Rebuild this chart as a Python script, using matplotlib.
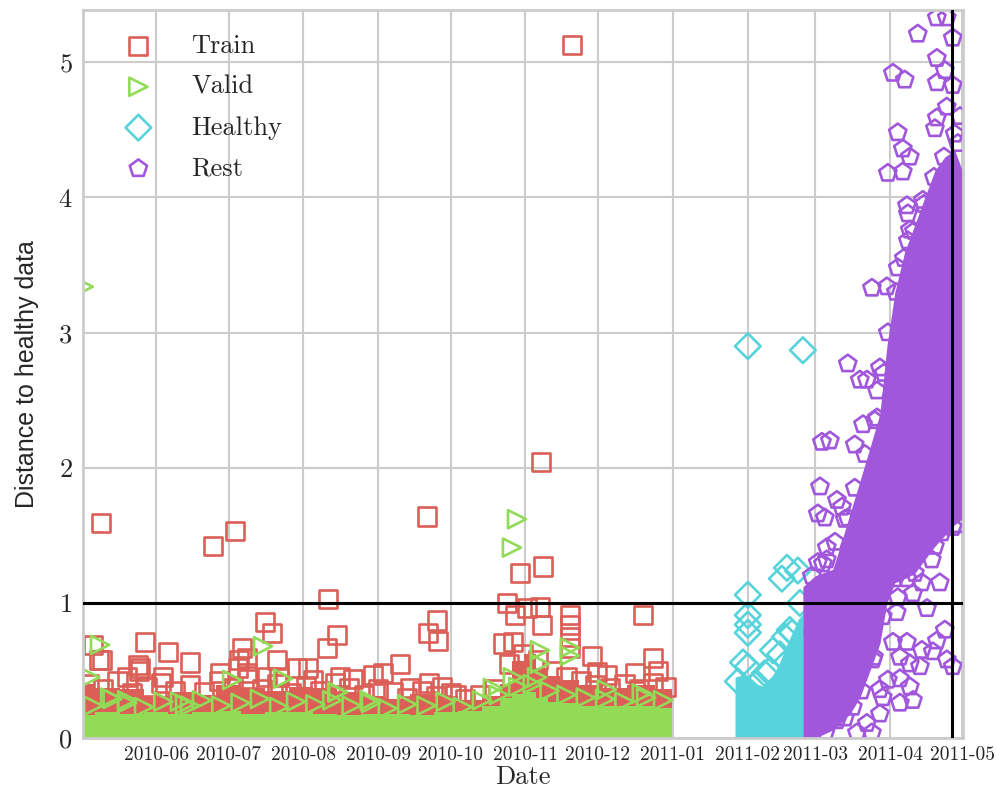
import numpy as np
import pandas as pd
import matplotlib
matplotlib.use('Agg')
import matplotlib.pyplot as plt
import matplotlib.dates as mdates
import seaborn as sns

sns.set_style('whitegrid')
plt.rcParams['font.family'] = 'serif'
plt.rcParams['font.serif'] = ['cmr10']
plt.rcParams['axes.formatter.use_mathtext'] = True

# days counted from 2010-06-01
start = pd.Timestamp('2010-06-01')

# dense lower part of train / valid (envelope of the solid band)
band_day = [-30.3, -20, -10, 0, 10, 20, 30, 40, 50, 60, 70, 80, 90, 100, 110,
            120, 130, 140, 145, 150, 155, 160, 165, 170, 180, 190, 200, 213.5]
train_top = [0.40, 0.37, 0.36, 0.31, 0.34, 0.32, 0.39, 0.37, 0.35, 0.38, 0.37, 0.34, 0.31, 0.29, 0.33,
             0.31, 0.28, 0.31, 0.40, 0.57, 0.62, 0.52, 0.46, 0.43, 0.39, 0.37, 0.39, 0.36]
valid_top = [0.17, 0.19, 0.18, 0.19, 0.18, 0.19, 0.20, 0.18, 0.19, 0.19, 0.18, 0.17, 0.18, 0.18, 0.17,
             0.19, 0.20, 0.24, 0.30, 0.33, 0.34, 0.30, 0.27, 0.26, 0.24, 0.24, 0.24, 0.22]

# healthy band
healthy_band_day = [239.8, 243, 246, 249, 252, 255, 258, 261, 264, 266, 268]
healthy_top = [0.45, 0.47, 0.45, 0.40, 0.38, 0.45, 0.55, 0.68, 0.80, 0.88, 0.92]

# rest band (lower and upper edge)
rest_band_day = [267.9, 272.9, 280.3, 283.2, 287.4, 291.5, 295.7, 299.8, 302.7,
                 306.0, 310.1, 314.3, 318.4, 322.6, 326.7, 330.8, 333.9]
rest_low = [0.0, 0.0, 0.06, 0.10, 0.18, 0.30, 0.50, 0.70, 1.00,
            1.15, 1.18, 1.22, 1.32, 1.42, 1.50, 1.58, 1.62]
rest_high = [1.12, 1.20, 1.25, 1.41, 1.66, 1.90, 2.15, 2.40, 2.90,
             3.30, 3.60, 3.80, 4.00, 4.20, 4.30, 4.35, 4.20]

# single markers
train_day = [-22.8, 23.6, 32.7, 112.2, 159.4, 172.3, 71.2, 145.3, 148.7, 153.6, 159.0, 150.7, 160.2,
             159.8, 143.7, 147.8, 171.4, 171.4, 171.4, 171.4, 180.5, 182.6, 201.7, 205.8, 207.9,
             198.3, 186.7, 74.9, 70.8, 45.1, 48.0, -4.6, 5.0, 35.6, 14.1, -26.1, -22.4, -6.6, 26.5,
             37.7, 50.1, 58.4, 65.0, 89.9, 116.4, 112.6, 116.8, 101.0, 94.0, 63.0, 51.0, 76.0,
             81.5, 105.0, 113.0, 118.5, 124.0, -23.5, -7.5, -7.0, 3.0, -12.0, 34.5, 34.0, 37.5,
             46.0,
             -28, -22, -16, -10, -4, 2, 8, 14, 20, 26, 32, 38, 44, 50, 56, 62, 68, 74, 80, 86, 92,
             98, 104, 110, 116, 122, 128, 134, 140, 146, 152, 158, 164, 170, 176, 182, 188, 194,
             200, 206, 211]
train_val = [1.59, 1.42, 1.53, 1.64, 2.04, 5.13, 1.03, 1.00, 0.91, 0.96, 0.97, 1.22, 1.27,
             0.84, 0.70, 0.71, 0.91, 0.84, 0.75, 0.67, 0.61, 0.49, 0.91, 0.59, 0.50,
             0.48, 0.47, 0.76, 0.67, 0.86, 0.78, 0.71, 0.64, 0.67, 0.56, 0.69, 0.58, 0.52, 0.48,
             0.59, 0.58, 0.52, 0.43, 0.47, 0.87, 0.78, 0.72, 0.55, 0.48, 0.52, 0.45, 0.45,
             0.44, 0.37, 0.41, 0.38, 0.32, 0.58, 0.54, 0.50, 0.45, 0.45, 0.58, 0.52, 0.48,
             0.45,
             0.40, 0.36, 0.42, 0.33, 0.38, 0.41, 0.35, 0.39, 0.34, 0.42, 0.37, 0.44, 0.36, 0.40,
             0.33, 0.38, 0.35, 0.41, 0.37, 0.32, 0.36, 0.34, 0.30, 0.35, 0.31, 0.33, 0.29, 0.32,
             0.36, 0.55, 0.62, 0.58, 0.50, 0.45, 0.42, 0.39, 0.37, 0.40, 0.36, 0.41, 0.38]

valid_day = [-30.0, 149.5, 147.4, -23.2, -27.3, 44.3, 31.5, 52.6, 75.4, -19.0, -12.0, 9.9, 14.1,
             159.0, 159.0, 171.4, 171.4, 139.5, 147.8, 186.7, 201.2, 157.8, 75.0, 88.5,
             -26, -18, -12, -5, 3, 12, 19, 27, 35, 43, 51, 58, 66, 73, 81, 89, 96, 104, 112, 120,
             127, 135, 142, 150, 156, 163, 170, 178, 186, 194, 203, 210]
valid_val = [3.34, 1.62, 1.41, 0.69, 0.45, 0.68, 0.43, 0.44, 0.34, 0.30, 0.28, 0.27, 0.24,
             0.65, 0.55, 0.67, 0.61, 0.37, 0.45, 0.36, 0.33, 0.45, 0.34, 0.28,
             0.24, 0.29, 0.26, 0.23, 0.27, 0.25, 0.28, 0.24, 0.26, 0.29, 0.23, 0.27, 0.25, 0.28,
             0.24, 0.26, 0.22, 0.25, 0.24, 0.27, 0.23, 0.28, 0.32, 0.38, 0.40, 0.35, 0.32, 0.30,
             0.29, 0.27, 0.30, 0.28]

healthy_day = [245.1, 267.9, 261.3, 265.8, 259.2, 245.1, 245.1, 245.1, 245.1, 243.1, 245.1,
               266.7, 260.5, 252.1, 255.5, 262.5,
               241.0, 248.0, 254.2, 258.4, 263.4]
healthy_val = [2.90, 2.87, 1.26, 1.24, 1.18, 1.06, 0.91, 0.84, 0.78, 0.56, 0.53,
               1.00, 0.75, 0.48, 0.65, 0.80,
               0.42, 0.40, 0.50, 0.62, 0.78]

rest_day = [323.4, 327.5, 315.5, 330.0, 305.2, 310.1, 323.4, 326.7, 323.4, 330.0, 327.5, 323.4,
            322.6, 330.8, 307.2, 309.3, 312.2, 303.1, 309.3, 317.6, 311.0, 311.4, 312.2, 311.4,
            307.2, 296.5, 302.7, 286.5, 291.5, 294.4, 299.8, 298.6, 292.8, 298.6, 275.8, 279.1,
            289.4, 275.0, 282.0, 284.1, 274.1, 277.0, 286.5, 277.8, 277.8, 325.5, 330.0, 321.3,
            309.3, 276.2, 306.8, 311.0, 317.2, 324.6, 307.2, 306.8, 313.5, 319.3, 326.7, 323.4,
            305.2, 311.0, 308.1, 296.9, 317.2, 321.7, 327.5, 330.0, 312.2, 316.4, 303.1, 308.1,
            290.3, 299.8, 312.2, 313.5, 308.1, 301.0, 284.5, 288.6, 282.0, 294.4, 296.5, 290.3,
            299.8,
            271.6, 274.1, 281.2, 285.3, 289.4, 293.6, 297.7, 301.4, 303.1, 306.4, 309.7, 313.9,
            318.0, 322.2, 326.3, 332.1, 333.0,
            277.4, 285.3, 292.2, 297.3, 301.0, 306.0, 314.3, 322.6, 332.1]
rest_val = [5.33, 5.33, 5.21, 5.18, 4.92, 4.87, 5.03, 4.94, 4.85, 4.83, 4.67, 4.59,
            4.51, 4.47, 4.48, 4.36, 4.30, 4.18, 4.19, 3.98, 3.94, 3.88, 3.76, 3.68,
            3.48, 3.33, 3.34, 2.77, 2.65, 2.65, 2.74, 2.57, 2.32, 2.37, 2.19, 2.20,
            2.17, 1.86, 1.76, 1.71, 1.66, 1.63, 1.63, 1.41, 1.32, 1.52, 1.56, 1.32,
            1.32, 1.29, 1.22, 1.18, 1.15, 1.15, 1.04, 0.93, 1.07, 0.96, 0.80, 0.72,
            0.71, 0.71, 0.60, 0.58, 0.65, 0.64, 0.58, 0.53, 0.55, 0.53, 0.43, 0.44,
            0.44, 0.36, 0.38, 0.28, 0.26, 0.30, 0.26, 0.23, 0.13, 0.11, 0.04, 0.04,
            0.18,
            1.20, 1.30, 1.45, 1.62, 1.85, 2.10, 2.35, 2.70, 3.00, 3.30, 3.55, 3.75,
            3.95, 4.15, 4.30, 4.40, 4.60,
            0.05, 0.15, 0.35, 0.60, 0.90, 1.18, 1.22, 1.42, 1.58]

threshold = 1.0
cut_day = 329.6
xlim_day = [-30.3, 334.2]


def to_date(days):
    return start + pd.to_timedelta(np.asarray(days, dtype=float), unit='D')


red, green, cyan, purple = sns.color_palette('hls', 4)
ms = 170
lw = 1.9

fig = plt.figure(figsize=(9.96, 7.92), dpi=100)
ax = fig.add_axes([0.0833, 0.068, 0.8835, 0.919])

ax.fill_between(to_date(band_day), 0, train_top, step='mid', color=red, lw=0)
ax.scatter(to_date(train_day), train_val, s=ms, marker='s', facecolors='none',
           edgecolors=red, linewidths=lw, label='Train')
ax.fill_between(to_date(band_day), 0, valid_top, step='mid', color=green, lw=0)
ax.scatter(to_date(valid_day), valid_val, s=ms, marker='>', facecolors='none',
           edgecolors=green, linewidths=lw, label='Valid')
ax.fill_between(to_date(healthy_band_day), 0, healthy_top, color=cyan, lw=0)
ax.scatter(to_date(healthy_day), healthy_val, s=ms, marker='D', facecolors='none',
           edgecolors=cyan, linewidths=lw, label='Healthy')
ax.fill_between(to_date(rest_band_day), rest_low, rest_high, color=purple, lw=0)
ax.scatter(to_date(rest_day), rest_val, s=ms, marker='p', facecolors='none',
           edgecolors=purple, linewidths=lw, label='Rest')

ax.axhline(threshold, color='black', lw=2.2, zorder=5)
ax.axvline(to_date([cut_day])[0], color='black', lw=2.2, zorder=5)

ax.set_xlim(to_date(xlim_day))
ax.set_ylim(0, 5.385)
ax.xaxis.set_major_locator(mdates.MonthLocator())
ax.xaxis.set_major_formatter(mdates.DateFormatter('%Y-%m'))
ax.tick_params(axis='x', labelsize=14, pad=2)
ax.tick_params(axis='y', labelsize=19, pad=4)
ax.set_xlabel('Date', fontsize=19, labelpad=1)
ax.set_ylabel('Distance to healthy data', fontsize=18, family='Liberation Sans', labelpad=14)

for sp in ax.spines.values():
    sp.set_color('#cccccc')
    sp.set_linewidth(2)
ax.grid(True, color='#cccccc', lw=1.5)

ax.legend(loc='upper left', frameon=False, fontsize=19, scatterpoints=1,
          handlelength=2.4, labelspacing=0.65)

fig.savefig('out.png', dpi=100)
